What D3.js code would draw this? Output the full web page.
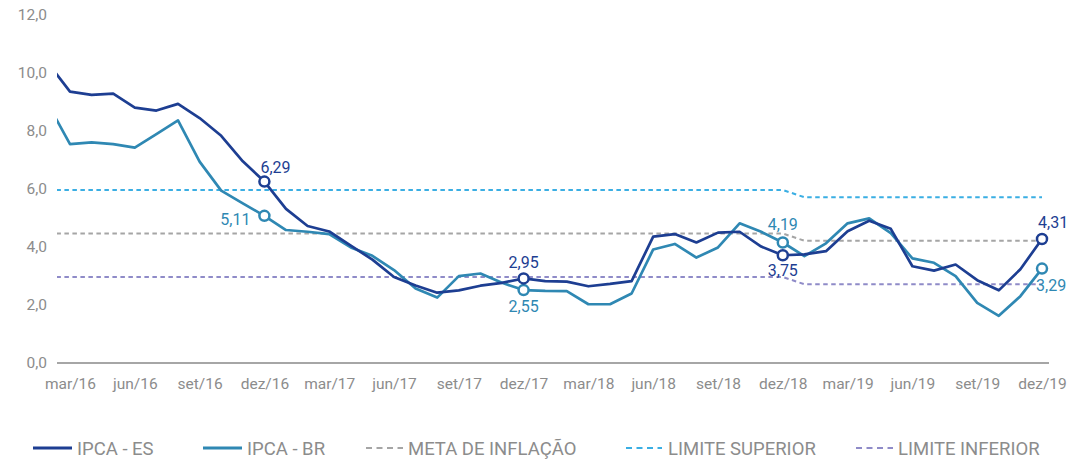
<!DOCTYPE html>
<html>
<head>
<meta charset="utf-8">
<script src="https://cdn.jsdelivr.net/npm/d3@7"></script>
<style>
  html, body { margin: 0; padding: 0; background: #fff; }
  svg { display: block; font-family: Roboto, "Noto Sans", sans-serif; }
</style>
</head>
<body>
<svg id="chart" width="1071" height="460"></svg>
<script>
// ---- DATA ----
const months = [
  "fev/16","mar/16","abr/16","mai/16","jun/16","jul/16","ago/16","set/16","out/16","nov/16","dez/16",
  "jan/17","fev/17","mar/17","abr/17","mai/17","jun/17","jul/17","ago/17","set/17","out/17","nov/17","dez/17",
  "jan/18","fev/18","mar/18","abr/18","mai/18","jun/18","jul/18","ago/18","set/18","out/18","nov/18","dez/18",
  "jan/19","fev/19","mar/19","abr/19","mai/19","jun/19","jul/19","ago/19","set/19","out/19","nov/19","dez/19"
];
const ipcaES = [
  10.36, 9.39, 9.28, 9.32, 8.84, 8.74, 8.97, 8.48, 7.87, 6.99, 6.29,
  5.35, 4.76, 4.57, 4.08, 3.60, 3.00, 2.71, 2.46, 2.54, 2.70, 2.80, 2.95,
  2.86, 2.84, 2.68, 2.76, 2.86, 4.39, 4.48, 4.19, 4.53, 4.56, 4.05, 3.75,
  3.78, 3.89, 4.58, 4.94, 4.66, 3.37, 3.22, 3.43, 2.89, 2.54, 3.27, 4.31
];
const ipcaBR = [
  8.94, 7.58, 7.64, 7.58, 7.46, 7.93, 8.40, 6.98, 5.98, 5.54, 5.11,
  4.62, 4.56, 4.48, 4.02, 3.73, 3.24, 2.60, 2.29, 3.03, 3.12, 2.80, 2.55,
  2.52, 2.51, 2.06, 2.06, 2.43, 3.95, 4.14, 3.67, 4.02, 4.85, 4.56, 4.19,
  3.72, 4.16, 4.85, 5.02, 4.51, 3.64, 3.49, 3.03, 2.11, 1.66, 2.34, 3.29
];
const metaInflacao = [
  4.5,4.5,4.5,4.5,4.5,4.5,4.5,4.5,4.5,4.5,4.5,
  4.5,4.5,4.5,4.5,4.5,4.5,4.5,4.5,4.5,4.5,4.5,4.5,
  4.5,4.5,4.5,4.5,4.5,4.5,4.5,4.5,4.5,4.5,4.5,4.5,
  4.25,4.25,4.25,4.25,4.25,4.25,4.25,4.25,4.25,4.25,4.25,4.25
];
const limiteSuperior = [
  6,6,6,6,6,6,6,6,6,6,6,
  6,6,6,6,6,6,6,6,6,6,6,6,
  6,6,6,6,6,6,6,6,6,6,6,6,
  5.75,5.75,5.75,5.75,5.75,5.75,5.75,5.75,5.75,5.75,5.75,5.75
];
const limiteInferior = [
  3,3,3,3,3,3,3,3,3,3,3,
  3,3,3,3,3,3,3,3,3,3,3,3,
  3,3,3,3,3,3,3,3,3,3,3,3,
  2.75,2.75,2.75,2.75,2.75,2.75,2.75,2.75,2.75,2.75,2.75,2.75
];
const xTickLabels = ["mar/16","jun/16","set/16","dez/16","mar/17","jun/17","set/17","dez/17",
                     "mar/18","jun/18","set/18","dez/18","mar/19","jun/19","set/19","dez/19"];
const yTicks = [0, 2, 4, 6, 8, 10, 12];
const highlightMonths = ["dez/16","dez/17","dez/18","dez/19"];

// ---- STYLE / LAYOUT ----
const C_ES = "#1d3e92", C_BR = "#2f88b3", C_META = "#a5a5a5", C_SUP = "#3aaee3", C_INF = "#8f8bc8";
const C_TEXT = "#8c8c8c", C_AXIS = "#a6a6a6";
const plotLeft = 57, plotRight = 1049, plotTop = 0, plotBottom = 364;

const svg = d3.select("#chart");
const x = d3.scalePoint().domain(months).range([48.4, 1042]);
const y = d3.scaleLinear().domain([0, 12]).range([364, 16]);
const comma = d3.formatLocale({decimal: ",", thousands: ".", grouping: [3], currency: ["R$", ""]});
const f1 = comma.format(".1f"), f2 = comma.format(".2f");

svg.append("clipPath").attr("id", "clip")
  .append("rect").attr("x", plotLeft).attr("y", plotTop)
  .attr("width", plotRight - plotLeft).attr("height", plotBottom - plotTop + 10);

// y axis labels
const yAxis = d3.axisLeft(y).tickValues(yTicks).tickFormat(f1).tickSize(0).tickPadding(0);
const gy = svg.append("g").attr("transform", "translate(47,0)").call(yAxis);
gy.select(".domain").remove();
gy.selectAll("text").attr("fill", C_TEXT).style("font-size", "15.5px")
  .style("font-family", "Roboto, sans-serif").attr("dy", "0.2em");

// baseline
svg.append("line").attr("x1", plotLeft).attr("x2", plotRight)
  .attr("y1", y(0) - 1).attr("y2", y(0) - 1)
  .attr("stroke", C_AXIS).attr("stroke-width", 2.2);

// x axis labels
const xAxis = d3.axisBottom(x).tickValues(xTickLabels).tickSize(0).tickPadding(0);
const gx = svg.append("g").attr("transform", `translate(0,${y(0) + 14})`).call(xAxis);
gx.select(".domain").remove();
gx.selectAll("text").attr("fill", C_TEXT).style("font-size", "15.5px")
  .style("font-family", "Roboto, sans-serif").attr("dy", "0.7em");

const plot = svg.append("g").attr("clip-path", "url(#clip)");
const lineGen = d3.line().x((d, i) => x(months[i])).y(d => y(d));

const refs = [
  {data: metaInflacao, color: C_META},
  {data: limiteInferior, color: C_INF},
  {data: limiteSuperior, color: C_SUP}
];
refs.forEach(r => {
  plot.append("path").datum(r.data).attr("d", lineGen)
    .attr("fill", "none").attr("stroke", r.color).attr("stroke-width", 2)
    .attr("stroke-dasharray", "4.5,3.5");
});

plot.append("path").datum(ipcaBR).attr("d", lineGen)
  .attr("fill", "none").attr("stroke", C_BR).attr("stroke-width", 2.7).attr("stroke-linejoin", "round");
plot.append("path").datum(ipcaES).attr("d", lineGen)
  .attr("fill", "none").attr("stroke", C_ES).attr("stroke-width", 2.7).attr("stroke-linejoin", "round");

// markers and labels
const labelPos = {
  ES: { "dez/16": {a: "start", dx: -4, dy: -9}, "dez/17": {a: "middle", dx: 0, dy: -10},
        "dez/18": {a: "middle", dx: 0, dy: 21}, "dez/19": {a: "start", dx: -4, dy: -11} },
  BR: { "dez/16": {a: "end", dx: -14, dy: 9}, "dez/17": {a: "middle", dx: 0, dy: 22},
        "dez/18": {a: "middle", dx: 0, dy: -12}, "dez/19": {a: "start", dx: -6, dy: 22} }
};
[{key: "BR", data: ipcaBR, color: C_BR}, {key: "ES", data: ipcaES, color: C_ES}].forEach(s => {
  highlightMonths.forEach(m => {
    const i = months.indexOf(m);
    const cx = x(m), cy = y(s.data[i]);
    svg.append("circle").attr("cx", cx).attr("cy", cy).attr("r", 5)
      .attr("fill", "#fff").attr("stroke", s.color).attr("stroke-width", 2.5);
    const p = labelPos[s.key][m];
    svg.append("text").attr("x", cx + p.dx).attr("y", cy + p.dy)
      .attr("text-anchor", p.a).attr("fill", s.color)
      .style("font-size", "16px").text(f2(s.data[i]));
  });
});

// legend
const legend = [
  {label: "IPCA - ES", color: C_ES, dash: null, x0: 33, x1: 72, tx: 77},
  {label: "IPCA - BR", color: C_BR, dash: null, x0: 203, x1: 242, tx: 247},
  {label: "META DE INFLAÇÃO", color: C_META, dash: "6,4.5", x0: 366, x1: 403, tx: 408},
  {label: "LIMITE SUPERIOR", color: C_SUP, dash: "6,4.5", x0: 626, x1: 662, tx: 668},
  {label: "LIMITE INFERIOR", color: C_INF, dash: "6,4.5", x0: 856, x1: 893, tx: 898}
];
const ly = 448;
const lg = svg.append("g");
legend.forEach(l => {
  const ln = lg.append("line").attr("x1", l.x0).attr("x2", l.x1).attr("y1", ly).attr("y2", ly)
    .attr("stroke", l.color).attr("stroke-width", l.dash ? 2 : 3);
  if (l.dash) ln.attr("stroke-dasharray", l.dash);
  lg.append("text").attr("x", l.tx).attr("y", ly).attr("dy", "0.36em")
    .attr("fill", C_TEXT).style("font-size", "18.5px").text(l.label);
});
</script>
</body>
</html>
